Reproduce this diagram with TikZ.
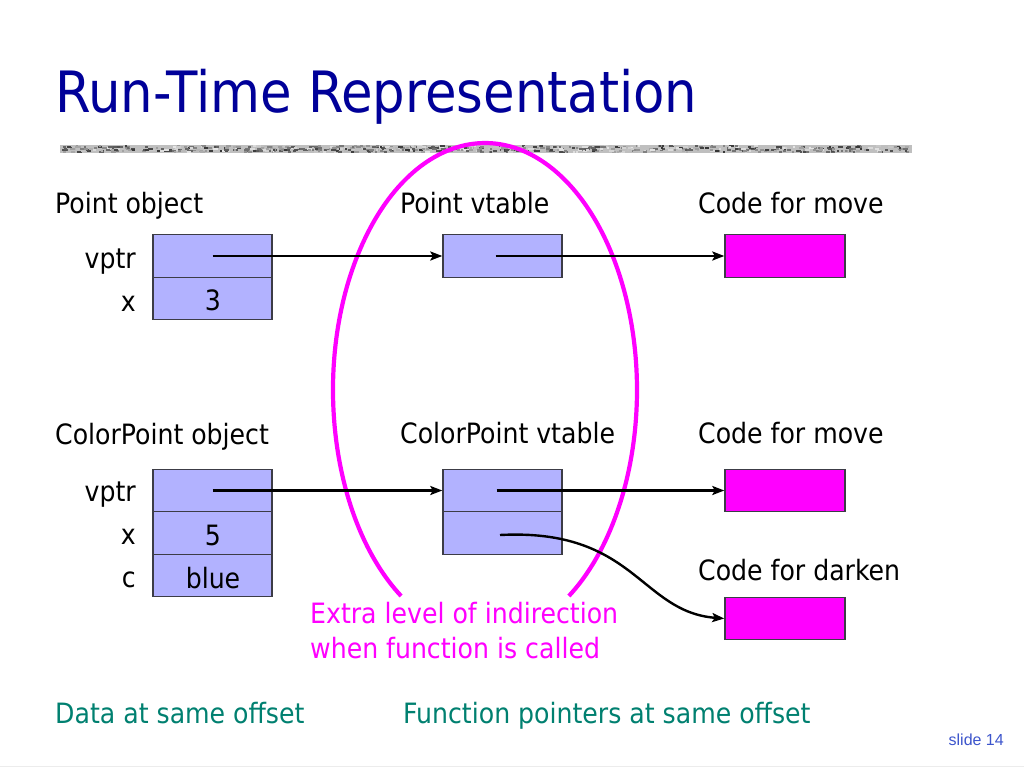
\documentclass[tikz,border=0pt]{standalone}
\usepackage{fontspec}
\setmainfont{DejaVu Sans Condensed}
\newfontfamily\slidefont{Liberation Sans}
\usetikzlibrary{arrows.meta}
\definecolor{titleblue}{RGB}{0,0,153}
\definecolor{cellblue}{RGB}{178,178,255}
\definecolor{magentac}{RGB}{255,0,255}
\definecolor{tealc}{RGB}{0,128,112}
\definecolor{slideblue}{RGB}{61,85,204}
\definecolor{boxedge}{RGB}{60,60,70}
\tikzset{
  lbl/.style={anchor=base west,inner sep=0pt,font=\fontsize{28}{34}\selectfont},
  rlbl/.style={anchor=base east,inner sep=0pt,font=\fontsize{28}{34}\selectfont},
  val/.style={anchor=base,inner sep=0pt,font=\fontsize{28}{34}\selectfont},
  cell/.style={draw=boxedge,line width=1.4pt,fill=cellblue,minimum width=119pt,minimum height=42.5pt,inner sep=0pt},
  codebox/.style={draw=boxedge,line width=1.4pt,fill=magentac,minimum width=120pt,minimum height=42.5pt,inner sep=0pt},
  ptr/.style={line width=2.4pt,-{Stealth[length=12pt,width=9pt,inset=2.5pt]}},
}
\begin{document}
\begin{tikzpicture}[x=1pt,y=-1pt]
\useasboundingbox (0,0) rectangle (1024,768);
\fill[white] (0,0) rectangle (1024,768);
% title
\node[anchor=base west,inner sep=0pt,text=titleblue,font=\fontsize{57}{68}\selectfont] (title) at (55,112) {Run-Time Representation};
% textured bar
\fill[gray!50] (60,145) rectangle (912,153);
\pgfmathsetseed{7}
\foreach \i in {1,...,700}{
  \pgfmathsetmacro{\bx}{60+rnd*848}
  \pgfmathsetmacro{\by}{145+rnd*6}
  \pgfmathsetmacro{\bw}{1.5+rnd*4}
  \pgfmathsetmacro{\bg}{int(10+rnd*70)}
  \fill[black!\bg] (\bx,\by) rectangle ++(\bw,2);
}
% ellipse (open at bottom)
\draw[magentac,line width=4.2pt] (401.1,596) arc[start angle=123.5,end angle=416.5,x radius=152,y radius=247];
% labels
\node[lbl] (l1) at (55,213) {Point object};
\node[lbl] (l2) at (400,213) {Point vtable};
\node[lbl] (l3) at (698,213) {Code for move};
\node[lbl] (l4) at (55,444) {ColorPoint object};
\node[lbl] (l5) at (400,443) {ColorPoint vtable};
\node[lbl] (l6) at (698,443) {Code for move};
\node[lbl] (l7) at (698,580) {Code for darken};
% Point object
\node[cell] (p1) at (212.5,256) {};
\node[cell] (p2) at (212.5,298.5) {};
\node[val] (p2v) at (213,310) {3};
\node[rlbl] (pv) at (136,268) {vptr};
\node[rlbl] (px) at (136,311) {x};
% Point vtable
\node[cell] (v1) at (502.5,256) {};
% code boxes
\node[codebox] (m1) at (785,256) {};
% ColorPoint object
\node[cell] (c1) at (212.5,490.5) {};
\node[cell] (c2) at (212.5,533) {};
\node[cell] (c3) at (212.5,575.5) {};
\node[val] (c2v) at (213,545) {5};
\node[val] (c3v) at (213,588) {blue};
\node[rlbl] (cv) at (136,501) {vptr};
\node[rlbl] (cx) at (136,544) {x};
\node[rlbl] (cc) at (136,587) {c};
% ColorPoint vtable
\node[cell] (w1) at (502.5,490.5) {};
\node[cell] (w2) at (502.5,533) {};
\node[codebox] (m2) at (785,490.5) {};
\node[codebox] (m3) at (785,618.5) {};
% arrows
\draw[ptr] (p1.center) -- (v1.west);
\draw[ptr] ([xshift=-7pt]v1.center) -- (m1.west);
\draw[ptr] (c1.center) -- (w1.west);
\draw[ptr] ([xshift=-6pt]w1.center) -- (m2.west);
\coordinate (cs) at (500,535);
\draw[ptr] (cs) .. controls (635,528) and (640,612) .. (m3.west);
% magenta note
\node[lbl,text=magentac] (n1) at (310,623) {Extra level of indirection};
\node[lbl,text=magentac] (n2) at (310,658) {when function is called};
% teal notes
\node[lbl,text=tealc] (t1) at (55,723) {Data at same offset};
\node[lbl,text=tealc] (t2) at (403,723) {Function pointers at same offset};
% slide number
\node[anchor=base east,inner sep=0pt,text=slideblue,font=\slidefont\fontsize{16}{18}\selectfont] (sn) at (1004,745) {slide 14};
\draw[gray!15,line width=1pt] (0,766) -- (1024,766);
\end{tikzpicture}
\end{document}
